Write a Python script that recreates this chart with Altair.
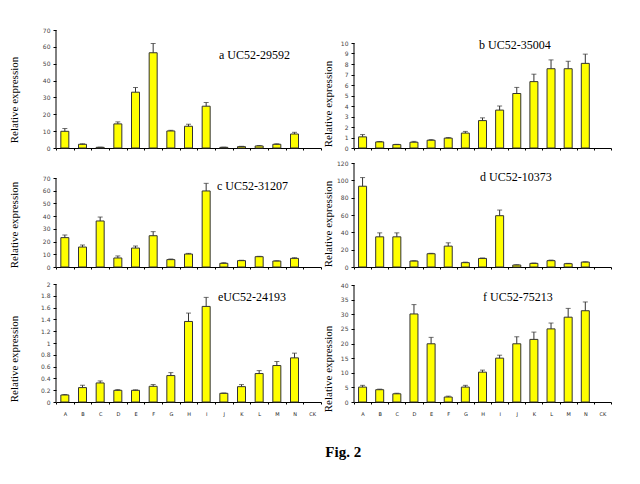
import altair as alt
import pandas as pd

cats = ["A", "B", "C", "D", "E", "F", "G", "H", "I", "J", "K", "L", "M", "N", "CK"]
bar_cats = cats[:14]

a_vals = [9.9, 2.2, 0.4, 14.3, 33.1, 56.5, 10.1, 12.9, 24.8, 0.4, 0.8, 1.2, 2.2, 8.3]
a_errs = [1.6, 0.3, 0.1, 1.2, 2.8, 5.5, 0.4, 1.2, 2.2, 0.1, 0.2, 0.3, 0.3, 1.0]

b_vals = [1.06, 0.58, 0.32, 0.55, 0.74, 0.94, 1.42, 2.61, 3.61, 5.19, 6.32, 7.55, 7.55, 8.06]
b_errs = [0.22, 0.04, 0.03, 0.08, 0.06, 0.06, 0.16, 0.26, 0.39, 0.58, 0.71, 0.84, 0.71, 0.88]

c_vals = [23.1, 15.7, 36.2, 7.1, 14.9, 24.6, 5.8, 10.2, 59.8, 2.9, 5.0, 8.1, 4.7, 6.8]
c_errs = [2.1, 1.6, 3.1, 1.6, 1.6, 3.2, 0.5, 0.5, 6.0, 0.5, 0.3, 0.3, 0.2, 0.5]

d_vals = [93.2, 34.8, 34.8, 6.9, 15.3, 24.1, 5.0, 9.9, 59.2, 2.3, 4.2, 7.3, 3.8, 5.7]
d_errs = [10.0, 4.6, 4.6, 0.3, 0.5, 3.8, 0.6, 0.5, 6.5, 0.3, 0.4, 0.7, 0.4, 0.3]

e_vals = [0.119, 0.244, 0.323, 0.198, 0.198, 0.266, 0.448, 1.365, 1.62, 0.147, 0.26, 0.482, 0.618, 0.748]
e_errs = [0.01, 0.04, 0.034, 0.012, 0.008, 0.03, 0.05, 0.142, 0.153, 0.006, 0.035, 0.05, 0.068, 0.08]

f_vals = [5.1, 4.2, 2.8, 30.1, 19.9, 1.7, 5.1, 10.2, 15.0, 19.9, 21.4, 25.0, 29.0, 31.2]
f_errs = [0.6, 0.2, 0.2, 3.2, 2.2, 0.3, 0.6, 0.7, 1.0, 2.4, 2.5, 2.0, 3.0, 3.0]

a_ticks = [0, 10, 20, 30, 40, 50, 60, 70]
b_ticks = [0, 1, 2, 3, 4, 5, 6, 7, 8, 9, 10]
c_ticks = [0, 10, 20, 30, 40, 50, 60, 70]
d_ticks = [0, 20, 40, 60, 80, 100, 120]
e_ticks = [0, 0.2, 0.4, 0.6, 0.8, 1, 1.2, 1.4, 1.6, 1.8, 2]
f_ticks = [0, 5, 10, 15, 20, 25, 30, 35, 40]

labels = ["a UC52-29592", "b UC52-35004", "c UC52-31207",
          "d UC52-10373", "eUC52-24193", "f UC52-75213"]
y_title = "Relative expression"

SERIF = "Liberation Serif"
SMALL = "DejaVu Sans"


def panel(vals, errs, label, ticks, dmax, width, height, show_x, ytx, yty,
          tx, ty, fmt):
    df = pd.DataFrame({"cat": bar_cats, "val": vals, "err": errs})
    df["hi"] = df["val"] + df["err"]
    xaxis = alt.Axis(title=None, labels=show_x, tickBand="extent",
                     labelOverlap=False, labelAngle=0, labelFontSize=5,
                     labelFont=SMALL, labelPadding=7, tickSize=2,
                     labelColor="#222222", domainColor="black",
                     tickColor="black", grid=False)
    xscale = alt.Scale(domain=cats, paddingInner=0, paddingOuter=0)
    yscale = alt.Scale(domain=[0, dmax], nice=False, zero=True)
    yaxis = alt.Axis(values=ticks, format=fmt, title=None,
                     labelOverlap=False, labelFlush=False,
                     labelFont=SMALL, labelFontSize=6, labelColor="#444444",
                     tickSize=3, tickColor="black", labelPadding=3,
                     domain=False, grid=False)
    base = alt.Chart(df)
    bars = base.mark_bar(size=8, color="#FFFF00", stroke="#333333",
                         strokeWidth=1).encode(
        x=alt.X("cat:N", sort=cats, scale=xscale, axis=xaxis),
        y=alt.Y("val:Q", scale=yscale, axis=yaxis))
    rules = base.mark_rule(color="#333333", strokeWidth=1).encode(
        x=alt.X("cat:N", sort=cats, axis=None),
        y=alt.Y("val:Q", axis=None), y2="hi:Q")
    caps = base.mark_tick(color="#333333", size=5, thickness=1).encode(
        x=alt.X("cat:N", sort=cats, axis=None),
        y=alt.Y("hi:Q", axis=None))
    yline = alt.Chart(pd.DataFrame({"lo": [0], "top": [ticks[-1]]})).mark_rule(
        color="black", strokeWidth=1).encode(
        x=alt.value(0), y=alt.Y("lo:Q", axis=None), y2="top:Q")
    txt = alt.Chart(pd.DataFrame({"t": [label]})).mark_text(
        align="left", baseline="middle", font=SERIF, fontSize=12,
        color="black").encode(x=alt.value(tx), y=alt.value(ty), text="t:N")
    ytxt = alt.Chart(pd.DataFrame({"t": [y_title]})).mark_text(
        align="center", baseline="middle", angle=270, font=SERIF,
        fontSize=11, color="black").encode(
        x=alt.value(ytx), y=alt.value(yty), text="t:N")
    return alt.layer(bars, rules, caps, yline, txt, ytxt).resolve_axis(
        x="independent", y="independent").properties(
        width=width, height=height)


LW, RW = 265, 257
H1, H2, H3 = 118, 104, 123

pa = panel(a_vals, a_errs, labels[0], a_ticks, 70, LW, H1, False, -41, 70, 163, 25, "d")
pb = panel(b_vals, b_errs, labels[1], b_ticks, 10 * H1 / 105, RW, H1, False, -25, 74, 125, 15, "d")
pc = panel(c_vals, c_errs, labels[2], c_ticks, 70 * H2 / 89, LW, H2, False, -41, 62, 161, 23, "d")
pd_ = panel(d_vals, d_errs, labels[3], d_ticks, 120, RW, H2, False, -25, 61, 126, 14, "d")
pe = panel(e_vals, e_errs, labels[4], e_ticks, 2 * H3 / 118, LW, H3, True, -41, 80, 162, 18, ".1~f")
pf = panel(f_vals, f_errs, labels[5], f_ticks, 40 * H3 / 117, RW, H3, True, -25, 90, 129, 18, "d")

row1 = alt.hconcat(pa, pb, spacing=0)
row2 = alt.hconcat(pc, pd_, spacing=0)
row3 = alt.hconcat(pe, pf, spacing=0)

chart = alt.vconcat(row1, row2, row3, spacing=7).properties(
    title=alt.TitleParams("Fig. 2", orient="bottom", anchor="middle",
                          font=SERIF, fontSize=15, fontWeight="bold",
                          color="black", offset=28, dx=33),
    padding={"left": 0, "top": 18, "right": 0, "bottom": 0},
).configure(
    background="white",
    view=alt.ViewConfig(stroke="transparent"),
)

chart.save("out.html", embed_options={"renderer": "svg", "actions": False})
